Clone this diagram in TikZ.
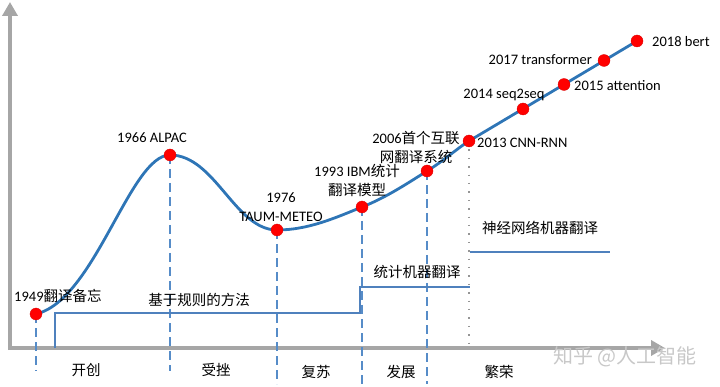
\documentclass[tikz,border=0pt]{standalone}
\usepackage{fontspec}
\setmainfont{Carlito}
\newfontfamily\cjk{Noto Sans CJK SC}
\usetikzlibrary{arrows.meta}
\newcommand\zh[1]{{\cjk #1}}
\definecolor{curveblue}{RGB}{46,117,182}
\definecolor{dashblue}{RGB}{86,140,200}
\definecolor{periodblue}{RGB}{79,129,189}
\definecolor{axisgray}{RGB}{166,166,166}
\definecolor{wmgray}{RGB}{200,200,200}
\tikzset{
  axisline/.style={draw=axisgray, line width=4.5pt, -{Triangle[width=15pt,length=14pt]}},
  curveline/.style={draw=curveblue, line width=2.8pt},
  dot/.style={circle, fill=red, draw=red!85!black, line width=0.3pt, minimum size=12pt, inner sep=0pt},
  dsh/.style={draw=dashblue, line width=1.6pt, dash pattern=on 9pt off 5pt},
  dotted line/.style={draw=axisgray!90!black, line width=1.4pt, dash pattern=on 1.4pt off 7pt},
  period/.style={draw=periodblue, line width=2pt},
  lbl/.style={inner sep=0pt, font=\fontsize{14.5}{19}\selectfont, text=black},
  zlbl/.style={lbl, font=\fontsize{14.5}{19}\selectfont\cjk},
}
\begin{document}
\begin{tikzpicture}[x=1pt, y=-1pt]
\useasboundingbox (0,0) rectangle (720,387);
% axes
\coordinate (yb) at (10,350);
\coordinate (yt) at (10,2);
\coordinate (xl) at (8,348);
\coordinate (xr) at (665,348);
\draw[axisline] (yb) -- (yt);
\draw[axisline] (xl) -- (xr);
% key points
\coordinate (pA) at (36,314);
\coordinate (pB) at (170,155);
\coordinate (pC) at (277,230);
\coordinate (pD) at (362,207);
\coordinate (pE) at (427,171);
\coordinate (pF) at (469,141);
\coordinate (pG) at (523,109);
\coordinate (pH) at (564,84.5);
\coordinate (pI) at (604,60.5);
\coordinate (pJ) at (637,41);
% dashed drops
\coordinate (qA) at (36,371);
\coordinate (qB) at (170,371);
\coordinate (qC) at (277,384);
\coordinate (qD) at (362,384);
\coordinate (qE) at (427,384);
\coordinate (qF) at (469,344);
\draw[dsh] (pA) -- (qA);
\draw[dsh] (pB) -- (qB);
\draw[dsh] (pC) -- (qC);
\draw[dsh] (pD) -- (qD);
\draw[dsh] (pE) -- (qE);
\draw[dotted line] (pF) -- (qF);
% period lines
\coordinate (r0) at (55,348);
\coordinate (r1) at (55,313);
\coordinate (r2) at (360,313);
\coordinate (s1) at (360,287);
\coordinate (s2) at (470,287);
\coordinate (t1) at (470,252);
\coordinate (t2) at (610,252);
\draw[period] (r0) -- (r1) -- (r2) -- (s1) -- (s2);
\draw[period] (t1) -- (t2);
% curve
\draw[curveline] (pA) .. controls (95,300) and (130,155) .. (pB)
  .. controls (215,155) and (235,230) .. (pC)
  .. controls (308,230) and (335,218) .. (pD)
  .. controls (385,198) and (405,185) .. (pE)
  .. controls (445,160) and (455,150) .. (pF)
  -- (pJ);
% dots
\foreach \p in {A,B,C,D,E,F,G,H,I,J} { \node[dot] (d\p) at (p\p) {}; }
% labels
\node[lbl, anchor=west] (l1949) at (14,296) {1949\zh{翻译备忘}};
\node[lbl] (l1966) at (152,138) {1966 ALPAC};
\node[lbl, align=center] (l1976) at (281,207) {1976\\TAUM-METEO};
\node[lbl, align=center] (l1993) at (357,180) {1993 IBM\zh{统计}\\\zh{翻译模型}};
\node[lbl, align=center] (l2006) at (416,147) {2006\zh{首个互联}\\\zh{网翻译系统}};
\node[lbl, anchor=west] (l2013) at (477,143) {2013 CNN-RNN};
\node[lbl] (l2014) at (504,95) {2014 seq2seq};
\node[lbl, anchor=west] (l2015) at (574,86) {2015 attention};
\node[lbl, anchor=east] (l2017) at (592,60) {2017 transformer};
\node[lbl, anchor=west] (l2018) at (652,42) {2018 bert};
\node[zlbl] (lrule) at (199,300) {基于规则的方法};
\node[zlbl] (lstat) at (417,272) {统计机器翻译};
\node[zlbl] (lneur) at (540,228) {神经网络机器翻译};
\node[zlbl] (e1) at (86,370) {开创};
\node[zlbl] (e2) at (216,370) {受挫};
\node[zlbl] (e3) at (316,372) {复苏};
\node[zlbl] (e4) at (401,372) {发展};
\node[zlbl] (e5) at (499,372) {繁荣};
\node[inner sep=0pt, font=\fontsize{20}{22}\selectfont\cjk, text=wmgray] (wm) at (625,357) {知乎 @人工智能};
\end{tikzpicture}
\end{document}
